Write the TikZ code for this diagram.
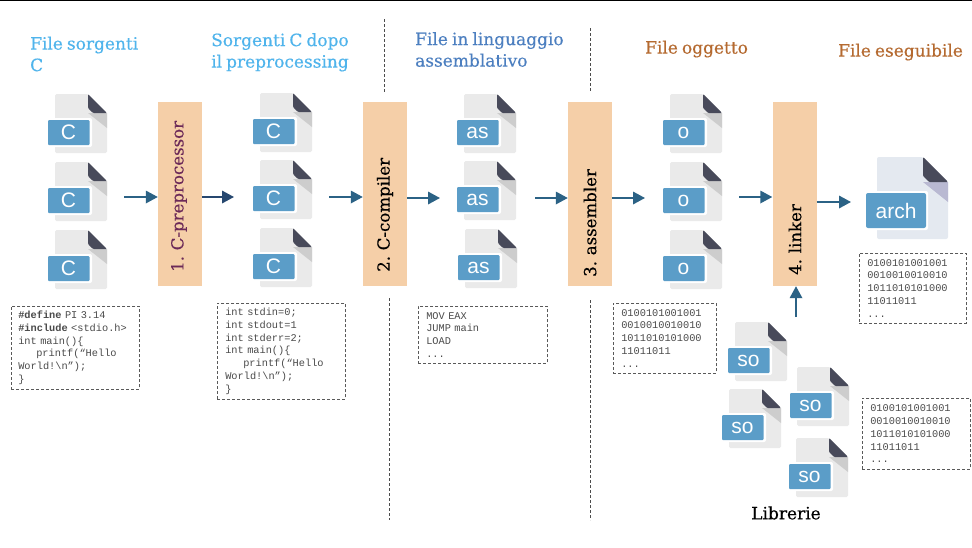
\documentclass[tikz,border=0pt]{standalone}
\usepackage{fontspec}
\newfontfamily\slabfont[FakeBold=0.35,WordSpace=0.75]{DejaVu Serif}
\newfontfamily\labelfont{Liberation Sans}
\newfontfamily\codefont{Liberation Mono}
\usetikzlibrary{arrows.meta}
\definecolor{pagegray}{HTML}{EAEAEA}
\definecolor{pageblue}{HTML}{E4E9F0}
\definecolor{foldgray}{HTML}{CDCDCD}
\definecolor{folddark}{HTML}{484A5A}
\definecolor{badgeblue}{HTML}{5B9DC8}
\definecolor{procfill}{HTML}{F5CFA8}
\definecolor{titleblue}{HTML}{4FB4EC}
\definecolor{titlemid}{HTML}{4C7FC0}
\definecolor{titlebrown}{HTML}{B56A30}
\definecolor{procpurple}{HTML}{6C2A58}
\definecolor{arrowblue}{HTML}{2B6285}
\definecolor{arrowdark}{HTML}{26476F}
\definecolor{codegray}{HTML}{4A4A4A}
\tikzset{
  x=1pt,y=-1pt,
  proc/.style={draw=none,fill=procfill,minimum width=44pt,minimum height=184pt,inner sep=0pt},
  proclabel/.style={rotate=90,font=\slabfont\fontsize{16.6}{20}\selectfont,anchor=west,inner sep=0pt},
  flow/.style={draw=arrowblue,line width=1.8pt,-{Triangle[length=12pt,width=12.5pt]},shorten >=0pt},
  title/.style={font=\slabfont\fontsize{17}{22}\selectfont,align=left,anchor=north west,inner sep=0pt},
  codebox/.style={draw=black!65,densely dashed,line width=0.6pt,anchor=north west,align=left,inner sep=0pt,
    font=\codefont\fontsize{10.3}{12.8}\selectfont,text=codegray},
  sepline/.style={draw=black!70,dashed,line width=0.8pt,dash pattern=on 3pt off 2pt},
  badgetext/.style={text=white,font=\labelfont\fontsize{21}{21}\selectfont,inner sep=0pt},
}
% name, x, y (page top-left), label
\newcommand{\fileicon}[4]{%
  \begin{scope}[shift={(#2,#3)}]
    \fill[pagegray,rounded corners=1.5pt] (0,0) -- (33,0) -- (52,19) -- (52,59) -- (0,59) -- cycle;
    \fill[foldgray] (33,19) -- (52,19) -- (52,34) -- cycle;
    \fill[folddark,rounded corners=1pt] (33,0) -- (52,19) -- (38,19) -- (33,14) -- cycle;
    \fill[white,rounded corners=2pt] (-7,24) rectangle (37,53);
    \fill[badgeblue,rounded corners=1pt] (-7,26) rectangle (34.5,51);
    \node[badgetext] (#1) at (13.5,38.5) {#4};
  \end{scope}}
\begin{document}
\begin{tikzpicture}
\useasboundingbox (0,0) rectangle (972,547);
\fill[white] (0,0) rectangle (972,547);
\fill[black] (0,0) rectangle (972,1.2);

% separators
\coordinate (s1a) at (384,19); \coordinate (s1b) at (384,92);
\coordinate (s2a) at (389,298); \coordinate (s2b) at (389,520);
\coordinate (s3a) at (590,28); \coordinate (s3b) at (590,92);
\coordinate (s4a) at (590,300); \coordinate (s4b) at (590,520);
\draw[sepline] (s1a) -- (s1b);
\draw[sepline] (s2a) -- (s2b);
\draw[sepline] (s3a) -- (s3b);
\draw[sepline] (s4a) -- (s4b);

% titles
\node[title,text=titleblue] (t1) at (30,36.5) {File sorgenti\\[-0.5pt]C};
\node[title,text=titleblue] (t2) at (211,33) {Sorgenti C dopo\\[-0.5pt]il preprocessing};
\node[title,text=titlemid] (t3) at (415,32) {File in linguaggio\\[-0.5pt]assemblativo};
\node[title,text=titlebrown] (t4) at (645,40.5) {File oggetto};
\node[title,text=titlebrown] (t5) at (838,43.5) {File eseguibile};

% process boxes
\node[proc] (p1) at (180,194) {};
\node[proc] (p2) at (385,194) {};
\node[proc] (p3) at (590,194) {};
\node[proc] (p4) at (794.5,194) {};
\node[proclabel,text=procpurple] (l1) at (179,272) {1. C-preprocessor};
\node[proclabel] (l2) at (385,272) {2. C-compiler};
\node[proclabel] (l3) at (590,277) {3. assembler};
\node[proclabel] (l4) at (795,275) {4. linker};

% files
\fileicon{c1}{55}{94}{C}
\fileicon{c2}{55}{162}{C}
\fileicon{c3}{55}{230}{C}
\fileicon{d1}{260}{93}{C}
\fileicon{d2}{260}{160}{C}
\fileicon{d3}{260}{228}{C}
\fileicon{a1}{464}{94}{as}
\fileicon{a2}{464}{161}{as}
\fileicon{a3}{465}{229}{as}
\fileicon{o1}{670}{94}{o}
\fileicon{o2}{670}{162}{o}
\fileicon{o3}{670}{230}{o}
\fileicon{so1}{735}{322}{so}
\fileicon{so2}{797}{367}{so}
\fileicon{so3}{729}{389}{so}
\fileicon{so4}{796}{438}{so}

% executable
\begin{scope}[shift={(877,157)}]
  \fill[pageblue,rounded corners=2pt] (0,0) -- (46,0) -- (71,25) -- (71,82) -- (0,82) -- cycle;
  \fill[foldgray!90!blue] (46,25) -- (71,25) -- (71,45) -- cycle;
  \fill[folddark,rounded corners=1pt] (46,0) -- (71,25) -- (52,25) -- (46,19) -- cycle;
  \fill[white,rounded corners=2pt] (-11,34) rectangle (51,73);
  \fill[badgeblue,rounded corners=2pt] (-11,36) rectangle (49,71);
  \node[badgetext] (ex) at (19,54) {arch};
\end{scope}

% arrows
\coordinate (f1) at (124,197);
\coordinate (f2e) at (234,197);
\coordinate (f3) at (329,197);
\coordinate (f4e) at (440,198);
\coordinate (f5) at (535,198);
\coordinate (f6e) at (645,198);
\coordinate (f7) at (739,197);
\coordinate (f8e) at (851,202);
\coordinate (f9) at (796,317);
\draw[flow] (f1) -- (f1 -| p1.west);
\draw[flow,draw=arrowdark] (f2e -| p1.east) -- (f2e);
\draw[flow] (f3) -- (f3 -| p2.west);
\draw[flow] (f4e -| p2.east) -- (f4e);
\draw[flow] (f5) -- (f5 -| p3.west);
\draw[flow] (f6e -| p3.east) -- (f6e);
\draw[flow] (f7) -- (f7 -| p4.west);
\draw[flow] (f8e -| p4.east) -- (f8e);
\draw[flow] (f9) -- (f9 |- p4.south);

% code boxes
\node[codebox,minimum width=128pt,minimum height=83pt,text width=114pt] (b1) at (11,306) {%
  \textbf{\#define} PI 3.14\\\textbf{\#include} <stdio.h>\\int main()\{\\\hspace*{18pt}printf(“Hello\\World!\textbackslash n”);\\\}};
\node[codebox,minimum width=128pt,minimum height=96pt,text width=112pt] (b2) at (217,303) {%
  int stdin=0;\\int stdout=1\\int stderr=2;\\int main()\{\\\hspace*{18pt}printf(“Hello\\World!\textbackslash n”);\\\}};
\node[codebox,minimum width=129pt,minimum height=57pt,text width=113pt] (b3) at (418,306) {%
  MOV EAX\\JUMP main\\LOAD\\...};
\node[codebox,minimum width=103pt,minimum height=70pt,text width=87pt] (b4) at (613,303) {%
  0100101001001\\0010010010010\\1011010101000\\11011011\\...};
\node[codebox,minimum width=107pt,minimum height=70pt,text width=91pt] (b5) at (859,253) {%
  0100101001001\\0010010010010\\1011010101000\\11011011\\...};
\node[codebox,minimum width=108pt,minimum height=71pt,text width=92pt] (b6) at (862,398) {%
  0100101001001\\0010010010010\\1011010101000\\11011011\\...};

\node[font=\slabfont\fontsize{17}{20}\selectfont,inner sep=0pt] (lib) at (786,513) {Librerie};
\end{tikzpicture}
\end{document}
